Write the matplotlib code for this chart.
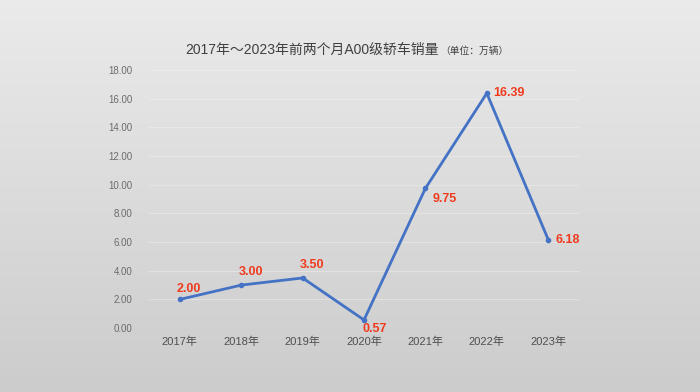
import numpy as np
import matplotlib
matplotlib.use('Agg')
import matplotlib.pyplot as plt

plt.rcParams['font.family'] = ['Liberation Sans', 'Noto Sans CJK SC', 'DejaVu Sans']

years = ['2017年', '2018年', '2019年', '2020年', '2021年', '2022年', '2023年']
sales = [2.00, 3.00, 3.50, 0.57, 9.75, 16.39, 6.18]
# label placement per point: (dx points, dy points, ha, va)
label_pos = [(-2, 3, 'left', 'bottom'), (-2, 5, 'left', 'bottom'), (-2, 5, 'left', 'bottom'),
             (-1, -2, 'left', 'top'), (5, -3, 'left', 'top'), (5, 0, 'left', 'center'),
             (5, 0, 'left', 'center')]

fig = plt.figure(figsize=(7, 3.92), dpi=100)

# vertical gradient background
bg = fig.add_axes([0, 0, 1, 1], zorder=-10)
grad = np.linspace(0.92, 0.80, 256).reshape(-1, 1)
bg.imshow(np.dstack([grad, grad, grad]), aspect='auto', extent=[0, 1, 0, 1])
bg.axis('off')

ax = fig.add_axes([0.213, 0.163, 0.614, 0.658])
ax.patch.set_alpha(0)
x = np.arange(len(years))
ax.plot(x, sales, color='#4472C4', lw=2, marker='o', ms=3)
for xi, v, (dx, dy, ha, va) in zip(x, sales, label_pos):
    ax.annotate(f'{v:.2f}', (xi, v), xytext=(dx, dy), textcoords='offset points',
                ha=ha, va=va, color='#F03A1E', fontsize=9, fontweight='bold')

ax.set_xlim(-0.5, len(years) - 0.5)
ax.set_ylim(0, 18)
ax.set_yticks(np.arange(0, 19, 2))
ax.set_yticklabels([f'{t:.2f}' for t in np.arange(0, 19, 2)])
ax.set_xticks(x)
ax.set_xticklabels(years)
ax.tick_params(axis='y', length=0, labelsize=7, labelcolor='#6b6b6b', pad=12)
ax.tick_params(axis='x', length=0, labelsize=8, labelcolor='#505050', pad=6)
ax.grid(axis='y', color='#f2f2f2', lw=0.8, alpha=0.45)
for s in ax.spines.values():
    s.set_visible(False)
ax.set_axisbelow(True)

fig.text(0.627, 0.872, '2017年～2023年前两个月A00级轿车销量', ha='right', va='center',
         fontsize=10, color='#404040')
fig.text(0.629, 0.869, '（单位：万辆）', ha='left', va='center', fontsize=7, color='#404040')

fig.savefig('out.png', dpi=100)
